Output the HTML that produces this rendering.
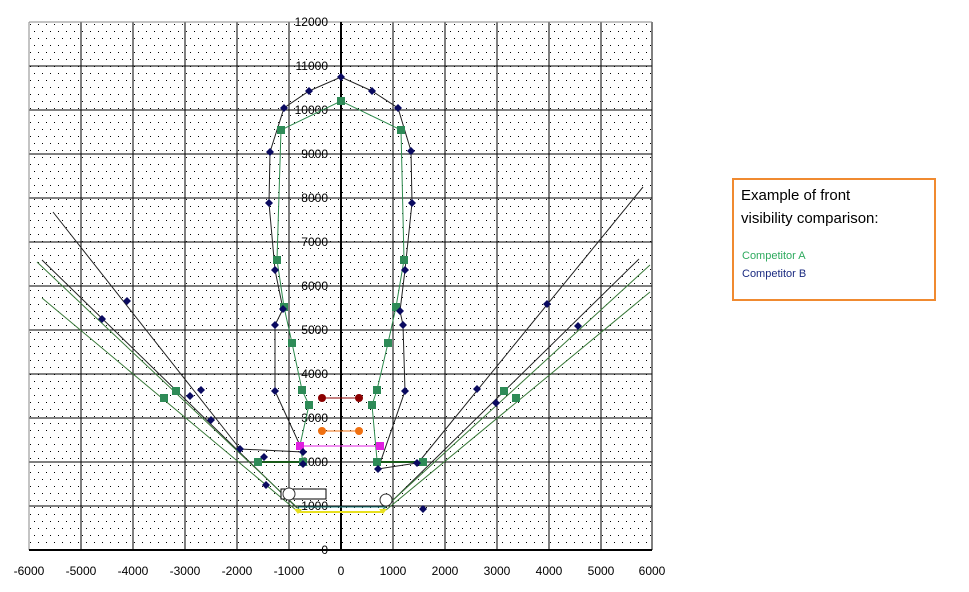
<!DOCTYPE html>
<html><head><meta charset="utf-8"><style>
body{margin:0;background:#fff;width:969px;height:592px;overflow:hidden;font-family:"Liberation Sans",Arial,sans-serif}
</style></head><body>
<svg width="969" height="592" xmlns="http://www.w3.org/2000/svg" style="position:absolute;left:0;top:0">
<defs><pattern id="d" width="8" height="14" patternUnits="userSpaceOnUse"><rect x="2" y="3" width="1" height="1" fill="#000"/><rect x="6" y="10" width="1" height="1" fill="#000"/></pattern></defs>
<rect x="29" y="22" width="623" height="528" fill="#fff"/>
<rect x="29" y="22" width="623" height="528" fill="url(#d)"/>
<g stroke="#000" stroke-width="1">
<line x1="81" y1="22" x2="81" y2="550"/><line x1="133" y1="22" x2="133" y2="550"/><line x1="185" y1="22" x2="185" y2="550"/><line x1="237" y1="22" x2="237" y2="550"/><line x1="289" y1="22" x2="289" y2="550"/><line x1="393" y1="22" x2="393" y2="550"/><line x1="445" y1="22" x2="445" y2="550"/><line x1="497" y1="22" x2="497" y2="550"/><line x1="549" y1="22" x2="549" y2="550"/><line x1="601" y1="22" x2="601" y2="550"/><line x1="652" y1="22" x2="652" y2="550"/>
<line x1="29" y1="66" x2="652" y2="66"/><line x1="29" y1="110" x2="652" y2="110"/><line x1="29" y1="154" x2="652" y2="154"/><line x1="29" y1="198" x2="652" y2="198"/><line x1="29" y1="242" x2="652" y2="242"/><line x1="29" y1="286" x2="652" y2="286"/><line x1="29" y1="330" x2="652" y2="330"/><line x1="29" y1="374" x2="652" y2="374"/><line x1="29" y1="418" x2="652" y2="418"/><line x1="29" y1="462" x2="652" y2="462"/><line x1="29" y1="506" x2="652" y2="506"/>
</g>
<line x1="29" y1="22" x2="652" y2="22" stroke="#888"/>
<line x1="29" y1="22" x2="29" y2="550" stroke="#888"/>
<line x1="341" y1="22" x2="341" y2="550" stroke="#000" stroke-width="2"/>
<line x1="29" y1="550" x2="652" y2="550" stroke="#000" stroke-width="2"/>
<g font-size="12" fill="#000" text-anchor="end">
<text x="328" y="26">12000</text><text x="328" y="70">11000</text><text x="328" y="114">10000</text><text x="328" y="158">9000</text><text x="328" y="202">8000</text><text x="328" y="246">7000</text><text x="328" y="290">6000</text><text x="328" y="334">5000</text><text x="328" y="378">4000</text><text x="328" y="422">3000</text><text x="328" y="466">2000</text><text x="328" y="510">1000</text><text x="328" y="554">0</text>
</g>
<g font-size="12" fill="#000" text-anchor="middle">
<text x="29" y="575">-6000</text><text x="81" y="575">-5000</text><text x="133" y="575">-4000</text><text x="185" y="575">-3000</text><text x="237" y="575">-2000</text><text x="289" y="575">-1000</text><text x="341" y="575">0</text><text x="393" y="575">1000</text><text x="445" y="575">2000</text><text x="497" y="575">3000</text><text x="549" y="575">4000</text><text x="601" y="575">5000</text><text x="652" y="575">6000</text>
</g>
<g fill="none" stroke-width="1">
<line x1="418" y1="463" x2="643" y2="187" stroke="#222"/>
<line x1="385" y1="508" x2="639" y2="259" stroke="#222"/>
<line x1="380" y1="512" x2="650" y2="265" stroke="#3a7a3a"/>
<line x1="386" y1="510" x2="650" y2="292" stroke="#3a7a3a"/>
<line x1="240" y1="449" x2="53" y2="212" stroke="#222"/>
<line x1="297" y1="508" x2="42" y2="260" stroke="#222"/>
<line x1="302" y1="512" x2="37" y2="262" stroke="#3a7a3a"/>
<line x1="296" y1="510" x2="42" y2="298" stroke="#3a7a3a"/>
</g>
<polyline fill="none" stroke="#222" points="303,452 275,391 275,325 283,309 275,270 269,203 270,152 284,108 309,91 341,77 372,91 398,108 411,151 412,203 405,270 400,311 403,325 405,391 378,469 417,463"/>
<line x1="303" y1="452" x2="240" y2="449" stroke="#222"/>
<line x1="303" y1="462" x2="258" y2="462" stroke="#1a5a1a" stroke-width="2"/>
<line x1="377" y1="462" x2="423" y2="462" stroke="#1a5a1a" stroke-width="2"/>
<polyline fill="none" stroke="#2e8b4e" points="303,462 300,445 309,405 302,390 292,343 284,307 277,260 281,130 341,101 401,130 404,260 396,307 388,343 377,390 372,405 377,460"/>
<line x1="300" y1="446" x2="380" y2="446" stroke="#e020e0"/>
<rect x="296" y="442" width="8" height="8" fill="#e020e0"/><rect x="376" y="442" width="8" height="8" fill="#e020e0"/>
<line x1="322" y1="431" x2="359" y2="431" stroke="#f07010"/>
<circle cx="322" cy="431" r="4" fill="#f07010"/><circle cx="359" cy="431" r="4" fill="#f07010"/>
<line x1="322" y1="398" x2="359" y2="398" stroke="#8b0000"/>
<circle cx="322" cy="398" r="4" fill="#8b0000"/><circle cx="359" cy="398" r="4" fill="#8b0000"/>
<line x1="298" y1="507" x2="386" y2="507" stroke="#2a8a8a"/>
<line x1="298" y1="512" x2="383" y2="512" stroke="#e8e020" stroke-width="2"/>
<path d="M294,509 l4,5 l4,-5z M379,509 l4,5 l4,-5z" fill="#e8e020"/>
<rect x="281" y="489" width="45" height="10" fill="#fff" stroke="#000"/>
<circle cx="289" cy="494" r="6" fill="#fff" stroke="#333"/>
<circle cx="386" cy="500" r="6" fill="#fff" stroke="#333"/>
<g fill="#2e8b57">
<rect x="337" y="97" width="8" height="8"/><rect x="277" y="126" width="8" height="8"/><rect x="397" y="126" width="8" height="8"/><rect x="273" y="256" width="8" height="8"/><rect x="400" y="256" width="8" height="8"/><rect x="280" y="303" width="8" height="8"/><rect x="392" y="303" width="8" height="8"/><rect x="288" y="339" width="8" height="8"/><rect x="384" y="339" width="8" height="8"/><rect x="298" y="386" width="8" height="8"/><rect x="373" y="386" width="8" height="8"/><rect x="305" y="401" width="8" height="8"/><rect x="368" y="401" width="8" height="8"/><rect x="299" y="458" width="8" height="8"/><rect x="373" y="458" width="8" height="8"/><rect x="254" y="458" width="8" height="8"/><rect x="419" y="458" width="8" height="8"/>
<rect x="172" y="387" width="8" height="8"/><rect x="160" y="394" width="8" height="8"/><rect x="500" y="387" width="8" height="8"/><rect x="512" y="394" width="8" height="8"/>
</g>
<g fill="#0a0a60">
<path d="M341,73l4,4l-4,4l-4,-4z M372,87l4,4l-4,4l-4,-4z M398,104l4,4l-4,4l-4,-4z M309,87l4,4l-4,4l-4,-4z M284,104l4,4l-4,4l-4,-4z M411,147l4,4l-4,4l-4,-4z M270,148l4,4l-4,4l-4,-4z M412,199l4,4l-4,4l-4,-4z M269,199l4,4l-4,4l-4,-4z M405,266l4,4l-4,4l-4,-4z M275,266l4,4l-4,4l-4,-4z M400,307l4,4l-4,4l-4,-4z M283,305l4,4l-4,4l-4,-4z M403,321l4,4l-4,4l-4,-4z M275,321l4,4l-4,4l-4,-4z M405,387l4,4l-4,4l-4,-4z M275,387l4,4l-4,4l-4,-4z M378,465l4,4l-4,4l-4,-4z M303,448l4,4l-4,4l-4,-4z M417,459l4,4l-4,4l-4,-4z M240,445l4,4l-4,4l-4,-4z M264,453l4,4l-4,4l-4,-4z M266,481l4,4l-4,4l-4,-4z M211,416l4,4l-4,4l-4,-4z M423,505l4,4l-4,4l-4,-4z M303,460l4,4l-4,4l-4,-4z"/>
<path d="M477,385l4,4l-4,4l-4,-4z M547,300l4,4l-4,4l-4,-4z M496,399l4,4l-4,4l-4,-4z M578,322l4,4l-4,4l-4,-4z M127,297l4,4l-4,4l-4,-4z M102,315l4,4l-4,4l-4,-4z M190,392l4,4l-4,4l-4,-4z M201,386l4,4l-4,4l-4,-4z"/>
</g>
<rect x="733" y="179" width="202" height="121" fill="#fff" stroke="#f08a30" stroke-width="2"/>
<text x="741" y="200" font-size="15" fill="#000">Example of front</text>
<text x="741" y="223" font-size="15" fill="#000">visibility comparison:</text>
<text x="742" y="259" font-size="11" fill="#2eaa5e">Competitor A</text>
<text x="742" y="277" font-size="11" fill="#1a2a80">Competitor B</text>
</svg>
</body></html>
